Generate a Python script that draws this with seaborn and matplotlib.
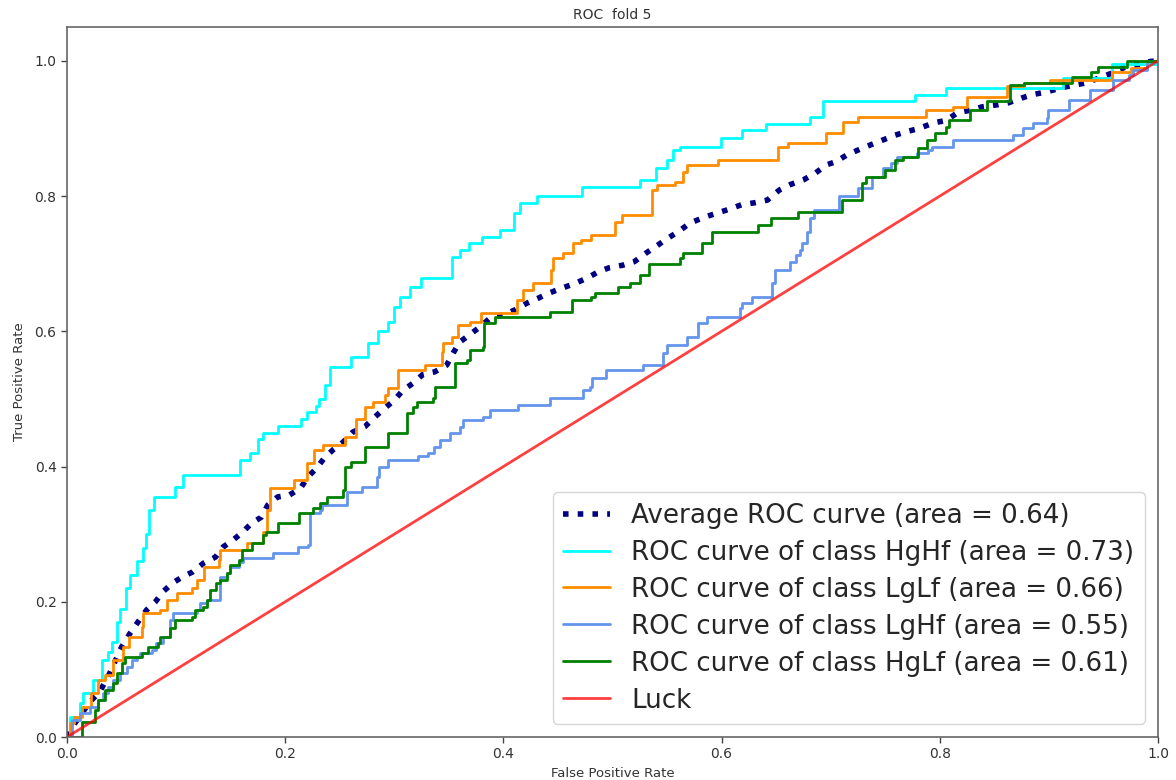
import matplotlib
matplotlib.use("Agg")
import matplotlib.pyplot as plt
import seaborn as sns
import pandas as pd

# ---------------- data ----------------
title = "ROC  fold 5"
x_label = "False Positive Rate"
y_label = "True Positive Rate"
tick_values = [0.0, 0.2, 0.4, 0.6, 0.8, 1.0]

avg_label = "Average ROC curve (area = 0.64)"
avg_fpr = [0.0, 0.007, 0.021, 0.030, 0.039, 0.050, 0.058, 0.065, 0.073, 0.081, 0.088,
           0.097, 0.106, 0.115, 0.125, 0.136, 0.143, 0.152, 0.161, 0.169, 0.178, 0.184,
           0.193, 0.204, 0.214, 0.221, 0.229, 0.236, 0.244, 0.253, 0.262, 0.273, 0.282,
           0.291, 0.300, 0.308, 0.317, 0.326, 0.337, 0.348, 0.354, 0.360, 0.369, 0.379,
           0.388, 0.400, 0.411, 0.422, 0.432, 0.441, 0.454, 0.466, 0.477, 0.487, 0.497,
           0.510, 0.520, 0.531, 0.542, 0.551, 0.560, 0.571, 0.583, 0.596, 0.606, 0.618,
           0.630, 0.642, 0.653, 0.663, 0.675, 0.686, 0.696, 0.705, 0.715, 0.725, 0.737,
           0.748, 0.759, 0.769, 0.781, 0.794, 0.806, 0.816, 0.828, 0.839, 0.853, 0.863,
           0.875, 0.885, 0.898, 0.911, 0.923, 0.933, 0.947, 0.958, 0.969, 0.981, 0.993, 1.0]
avg_tpr = [0.0, 0.020, 0.052, 0.067, 0.094, 0.133, 0.154, 0.170, 0.188, 0.200, 0.215,
           0.228, 0.237, 0.244, 0.257, 0.266, 0.281, 0.291, 0.303, 0.316, 0.325, 0.343,
           0.355, 0.358, 0.368, 0.385, 0.398, 0.413, 0.425, 0.436, 0.451, 0.459, 0.473,
           0.486, 0.498, 0.513, 0.523, 0.536, 0.540, 0.550, 0.568, 0.584, 0.595, 0.607,
           0.620, 0.624, 0.632, 0.642, 0.649, 0.656, 0.664, 0.671, 0.679, 0.688, 0.694,
           0.698, 0.703, 0.716, 0.728, 0.738, 0.747, 0.760, 0.768, 0.775, 0.780, 0.787,
           0.790, 0.794, 0.809, 0.817, 0.824, 0.834, 0.846, 0.851, 0.861, 0.868, 0.876,
           0.883, 0.890, 0.895, 0.900, 0.908, 0.912, 0.923, 0.927, 0.932, 0.935, 0.938,
           0.945, 0.950, 0.954, 0.960, 0.964, 0.967, 0.975, 0.982, 0.990, 0.994, 0.999, 1.0]

hghf_label = "ROC curve of class HgHf (area = 0.73)"
hghf_fpr = [0.0, 0.003, 0.012, 0.015, 0.024, 0.032, 0.038, 0.041, 0.046, 0.049, 0.054,
            0.058, 0.064, 0.070, 0.072, 0.075, 0.080, 0.099, 0.106, 0.159, 0.168, 0.175,
            0.180, 0.193, 0.214, 0.220, 0.228, 0.231, 0.236, 0.241, 0.260, 0.276, 0.285,
            0.294, 0.300, 0.305, 0.314, 0.324, 0.353, 0.360, 0.368, 0.380, 0.397, 0.410,
            0.415, 0.431, 0.472, 0.525, 0.540, 0.550, 0.555, 0.562, 0.599, 0.619, 0.641,
            0.681, 0.693, 0.777, 0.806, 0.913, 0.958, 1.0]
hghf_tpr = [0.0, 0.030, 0.050, 0.065, 0.084, 0.114, 0.125, 0.140, 0.170, 0.190, 0.220,
            0.240, 0.260, 0.280, 0.300, 0.336, 0.355, 0.370, 0.388, 0.410, 0.420, 0.440,
            0.450, 0.460, 0.470, 0.480, 0.490, 0.500, 0.520, 0.547, 0.562, 0.583, 0.600,
            0.614, 0.636, 0.650, 0.666, 0.679, 0.710, 0.720, 0.730, 0.740, 0.750, 0.775,
            0.790, 0.800, 0.814, 0.824, 0.842, 0.853, 0.868, 0.873, 0.886, 0.898, 0.907,
            0.917, 0.940, 0.950, 0.960, 0.975, 0.995, 1.0]

lglf_label = "ROC curve of class LgLf (area = 0.66)"
lglf_fpr = [0.0, 0.003, 0.006, 0.014, 0.022, 0.028, 0.035, 0.042, 0.051, 0.057, 0.069,
            0.070, 0.085, 0.092, 0.101, 0.115, 0.119, 0.126, 0.139, 0.140, 0.165, 0.180,
            0.183, 0.186, 0.208, 0.220, 0.226, 0.235, 0.255, 0.265, 0.273, 0.280, 0.291,
            0.294, 0.303, 0.328, 0.344, 0.345, 0.353, 0.358, 0.369, 0.379, 0.412, 0.418,
            0.427, 0.444, 0.445, 0.455, 0.464, 0.471, 0.480, 0.502, 0.509, 0.536, 0.541,
            0.557, 0.565, 0.568, 0.597, 0.652, 0.661, 0.696, 0.711, 0.725, 0.787, 0.812,
            0.825, 0.862, 0.877, 0.901, 0.958, 0.975, 0.990, 1.0]
lglf_tpr = [0.0, 0.020, 0.030, 0.045, 0.065, 0.084, 0.092, 0.114, 0.133, 0.148, 0.163,
            0.183, 0.188, 0.203, 0.213, 0.220, 0.232, 0.252, 0.262, 0.277, 0.287, 0.303,
            0.336, 0.368, 0.380, 0.405, 0.425, 0.432, 0.444, 0.471, 0.488, 0.496, 0.506,
            0.516, 0.543, 0.550, 0.570, 0.583, 0.592, 0.610, 0.614, 0.627, 0.646, 0.661,
            0.672, 0.690, 0.708, 0.716, 0.730, 0.735, 0.743, 0.762, 0.772, 0.809, 0.817,
            0.821, 0.836, 0.846, 0.853, 0.873, 0.878, 0.893, 0.910, 0.917, 0.927, 0.932,
            0.947, 0.962, 0.967, 0.972, 0.984, 0.990, 1.0, 1.0]

lghf_label = "ROC curve of class LgHf (area = 0.55)"
lghf_fpr = [0.0, 0.005, 0.012, 0.021, 0.028, 0.033, 0.038, 0.042, 0.049, 0.055, 0.060,
            0.064, 0.067, 0.078, 0.082, 0.088, 0.094, 0.097, 0.119, 0.122, 0.128, 0.140,
            0.147, 0.149, 0.158, 0.161, 0.189, 0.212, 0.221, 0.223, 0.232, 0.234, 0.257,
            0.270, 0.284, 0.286, 0.294, 0.322, 0.331, 0.336, 0.342, 0.351, 0.360, 0.363,
            0.381, 0.388, 0.413, 0.443, 0.473, 0.479, 0.481, 0.494, 0.528, 0.546, 0.550,
            0.568, 0.578, 0.587, 0.617, 0.619, 0.628, 0.646, 0.649, 0.663, 0.668, 0.672,
            0.674, 0.678, 0.681, 0.685, 0.708, 0.725, 0.738, 0.748, 0.755, 0.761, 0.779,
            0.789, 0.793, 0.812, 0.867, 0.876, 0.885, 0.898, 0.899, 0.918, 0.938, 0.959,
            0.973, 0.977, 0.990, 1.0]
lghf_tpr = [0.0, 0.025, 0.035, 0.044, 0.055, 0.065, 0.074, 0.084, 0.094, 0.104, 0.114,
            0.118, 0.124, 0.129, 0.139, 0.148, 0.173, 0.183, 0.188, 0.198, 0.203, 0.237,
            0.243, 0.252, 0.259, 0.265, 0.272, 0.281, 0.284, 0.331, 0.336, 0.343, 0.362,
            0.370, 0.385, 0.400, 0.410, 0.415, 0.420, 0.429, 0.439, 0.450, 0.459, 0.469,
            0.473, 0.484, 0.491, 0.501, 0.513, 0.518, 0.531, 0.543, 0.550, 0.568, 0.580,
            0.592, 0.612, 0.621, 0.634, 0.642, 0.651, 0.671, 0.690, 0.703, 0.713, 0.720,
            0.730, 0.747, 0.768, 0.780, 0.800, 0.812, 0.828, 0.842, 0.849, 0.858, 0.864,
            0.868, 0.873, 0.883, 0.890, 0.900, 0.908, 0.915, 0.927, 0.942, 0.957, 0.972,
            0.979, 0.987, 1.0, 1.0]

hglf_label = "ROC curve of class HgLf (area = 0.61)"
hglf_fpr = [0.0, 0.014, 0.026, 0.028, 0.035, 0.042, 0.046, 0.050, 0.053, 0.069, 0.074,
            0.083, 0.085, 0.094, 0.099, 0.115, 0.117, 0.125, 0.128, 0.131, 0.137, 0.140,
            0.147, 0.149, 0.158, 0.160, 0.170, 0.180, 0.182, 0.193, 0.213, 0.225, 0.232,
            0.238, 0.253, 0.255, 0.260, 0.273, 0.294, 0.312, 0.317, 0.321, 0.335, 0.337,
            0.356, 0.367, 0.369, 0.381, 0.382, 0.392, 0.443, 0.463, 0.480, 0.484, 0.505,
            0.516, 0.525, 0.533, 0.562, 0.565, 0.582, 0.591, 0.633, 0.645, 0.670, 0.710,
            0.729, 0.732, 0.750, 0.759, 0.766, 0.780, 0.788, 0.796, 0.806, 0.808, 0.828,
            0.843, 0.864, 0.877, 0.921, 0.939, 0.945, 0.972, 1.0]
hglf_tpr = [0.0, 0.022, 0.040, 0.055, 0.070, 0.080, 0.094, 0.109, 0.118, 0.124, 0.133,
            0.139, 0.148, 0.161, 0.173, 0.178, 0.188, 0.193, 0.203, 0.217, 0.228, 0.232,
            0.243, 0.254, 0.262, 0.277, 0.287, 0.299, 0.303, 0.316, 0.331, 0.339, 0.346,
            0.355, 0.365, 0.400, 0.407, 0.429, 0.450, 0.479, 0.488, 0.496, 0.501, 0.518,
            0.553, 0.558, 0.572, 0.577, 0.612, 0.621, 0.629, 0.646, 0.651, 0.656, 0.666,
            0.671, 0.683, 0.700, 0.708, 0.716, 0.730, 0.747, 0.757, 0.768, 0.777, 0.794,
            0.820, 0.828, 0.839, 0.853, 0.858, 0.871, 0.883, 0.893, 0.902, 0.912, 0.927,
            0.940, 0.964, 0.967, 0.976, 0.984, 0.991, 1.0, 1.0]

luck_label = "Luck"
luck_x = [0.0, 1.0]
luck_y = [0.0, 1.0]

# ---------------- drawing ----------------
sns.set_style("ticks")
plt.rcParams["font.family"] = ["DejaVu Sans"]

fig, ax = plt.subplots(figsize=(11.76, 7.8), dpi=100)
fig.subplots_adjust(left=0.057, right=0.9847, top=0.9654, bottom=0.0551)

sns.lineplot(x=avg_fpr, y=avg_tpr, ax=ax, color="navy", linestyle=":", linewidth=4,
             label=avg_label, estimator=None, sort=False)

step_series = [
    (hghf_fpr, hghf_tpr, "aqua", hghf_label),
    (lglf_fpr, lglf_tpr, "darkorange", lglf_label),
    (lghf_fpr, lghf_tpr, "cornflowerblue", lghf_label),
    (hglf_fpr, hglf_tpr, "green", hglf_label),
]
for fx, ty, col, lab in step_series:
    sns.lineplot(x=fx, y=ty, ax=ax, color=col, linewidth=2, label=lab,
                 estimator=None, sort=False, drawstyle="steps-post")

sns.lineplot(x=luck_x, y=luck_y, ax=ax, color="red", alpha=0.75, linewidth=2,
             label=luck_label, estimator=None, sort=False)

ax.set_xlim(0.0, 1.0)
ax.set_ylim(0.0, 1.05)
ax.set_xticks(tick_values)
ax.set_yticks(tick_values)
ax.set_xlabel(x_label, fontsize=9.5, color="#333333", labelpad=4)
ax.set_ylabel(y_label, fontsize=9.5, color="#333333", labelpad=6)
ax.set_title(title, fontsize=10, color="#333333", pad=6)
ax.tick_params(axis="both", labelsize=10, length=4, width=1, colors="#444444",
               labelcolor="#333333")
for s in ax.spines.values():
    s.set_visible(True)
    s.set_color("#666666")
    s.set_linewidth(1.2)

leg = ax.legend(loc="lower right", fontsize=18.8, frameon=True, fancybox=True,
                framealpha=0.8, edgecolor="#cccccc", handlelength=1.8,
                labelspacing=0.42)

fig.savefig("out.png", dpi=100, facecolor="white")
